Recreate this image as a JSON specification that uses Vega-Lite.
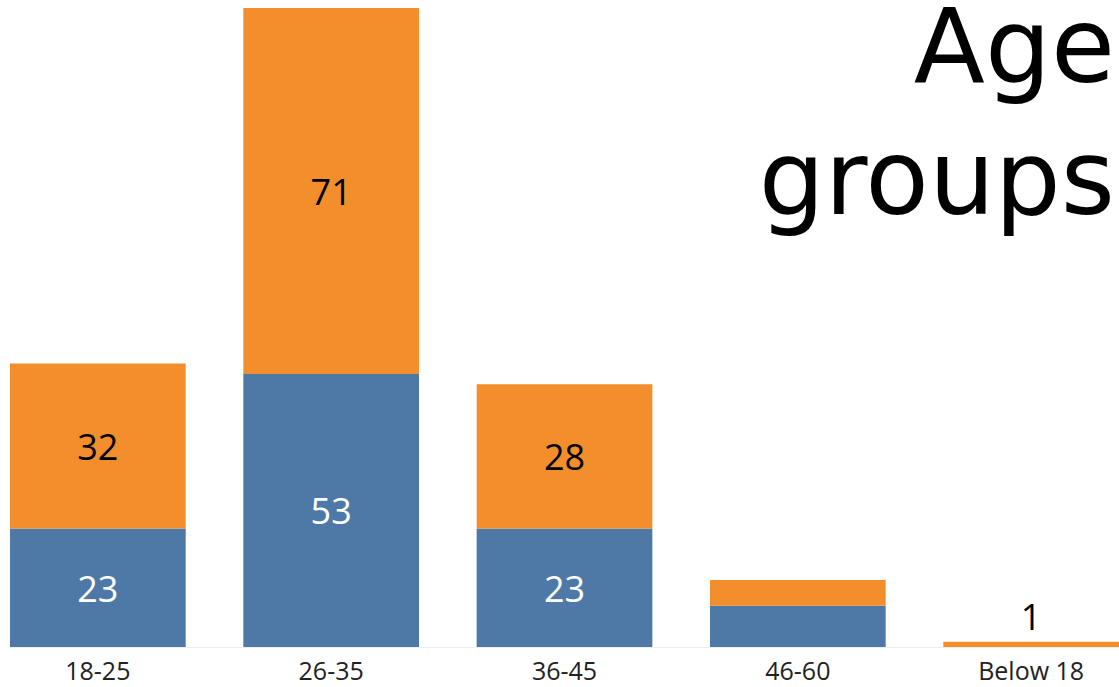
{
  "$schema": "https://vega.github.io/schema/vega-lite/v6.json",
  "width": 1109,
  "height": 639,
  "autosize": {"type": "none"},
  "padding": {"left": 10, "top": 8, "right": 0, "bottom": 40},
  "background": "white",
  "title": {
    "text": ["Age", "groups"],
    "anchor": "end",
    "orient": "top",
    "frame": "group",
    "font": "DejaVu Sans",
    "fontWeight": 400,
    "fontSize": 104,
    "lineHeight": 132,
    "color": "black",
    "baseline": "alphabetic",
    "offset": -310,
    "dx": -4
  },
  "data": {
    "values": [
      {"age": "18-25", "group": "a", "value": 23},
      {"age": "18-25", "group": "b", "value": 32},
      {"age": "26-35", "group": "a", "value": 53},
      {"age": "26-35", "group": "b", "value": 71},
      {"age": "36-45", "group": "a", "value": 23},
      {"age": "36-45", "group": "b", "value": 28},
      {"age": "46-60", "group": "a", "value": 8},
      {"age": "46-60", "group": "b", "value": 5},
      {"age": "Below 18", "group": "b", "value": 1}
    ]
  },
  "encoding": {
    "x": {
      "field": "age",
      "type": "nominal",
      "sort": ["18-25", "26-35", "36-45", "46-60", "Below 18"],
      "scale": {"paddingInner": 0.247, "paddingOuter": 0},
      "axis": {
        "title": null,
        "labelAngle": 0,
        "labelFont": "Open Sans",
        "labelFontSize": 25,
        "labelColor": "#222222",
        "labelPadding": 12,
        "ticks": false,
        "domainColor": "#eeeeee",
        "domainWidth": 1
      }
    }
  },
  "layer": [
    {
      "mark": {"type": "bar"},
      "encoding": {
        "y": {
          "field": "value",
          "type": "quantitative",
          "stack": "zero",
          "scale": {"domain": [0, 124], "nice": false, "zero": true},
          "axis": null
        },
        "color": {
          "field": "group",
          "type": "nominal",
          "scale": {"domain": ["a", "b"], "range": ["#4e79a7", "#f28e2b"]},
          "legend": null
        },
        "order": {"field": "group", "sort": "ascending"}
      }
    },
    {
      "transform": [{"filter": "datum.value >= 10"}],
      "mark": {"type": "text", "font": "Open Sans", "fontSize": 36, "baseline": "middle", "dy": 3},
      "encoding": {
        "y": {"field": "value", "type": "quantitative", "stack": "zero", "bandPosition": 0.5},
        "text": {"field": "value", "type": "quantitative"},
        "detail": {"field": "group"},
        "order": {"field": "group", "sort": "ascending"},
        "color": {
          "condition": {"test": "datum.group === 'a'", "value": "white"},
          "value": "black"
        }
      }
    },
    {
      "transform": [{"filter": "datum.age === 'Below 18'"}],
      "mark": {"type": "text", "font": "Open Sans", "fontSize": 36, "baseline": "bottom", "dy": -4, "color": "black"},
      "encoding": {
        "y": {"field": "value", "type": "quantitative"},
        "text": {"field": "value", "type": "quantitative"}
      }
    }
  ],
  "config": {
    "view": {"stroke": null},
    "axis": {"grid": false}
  }
}
